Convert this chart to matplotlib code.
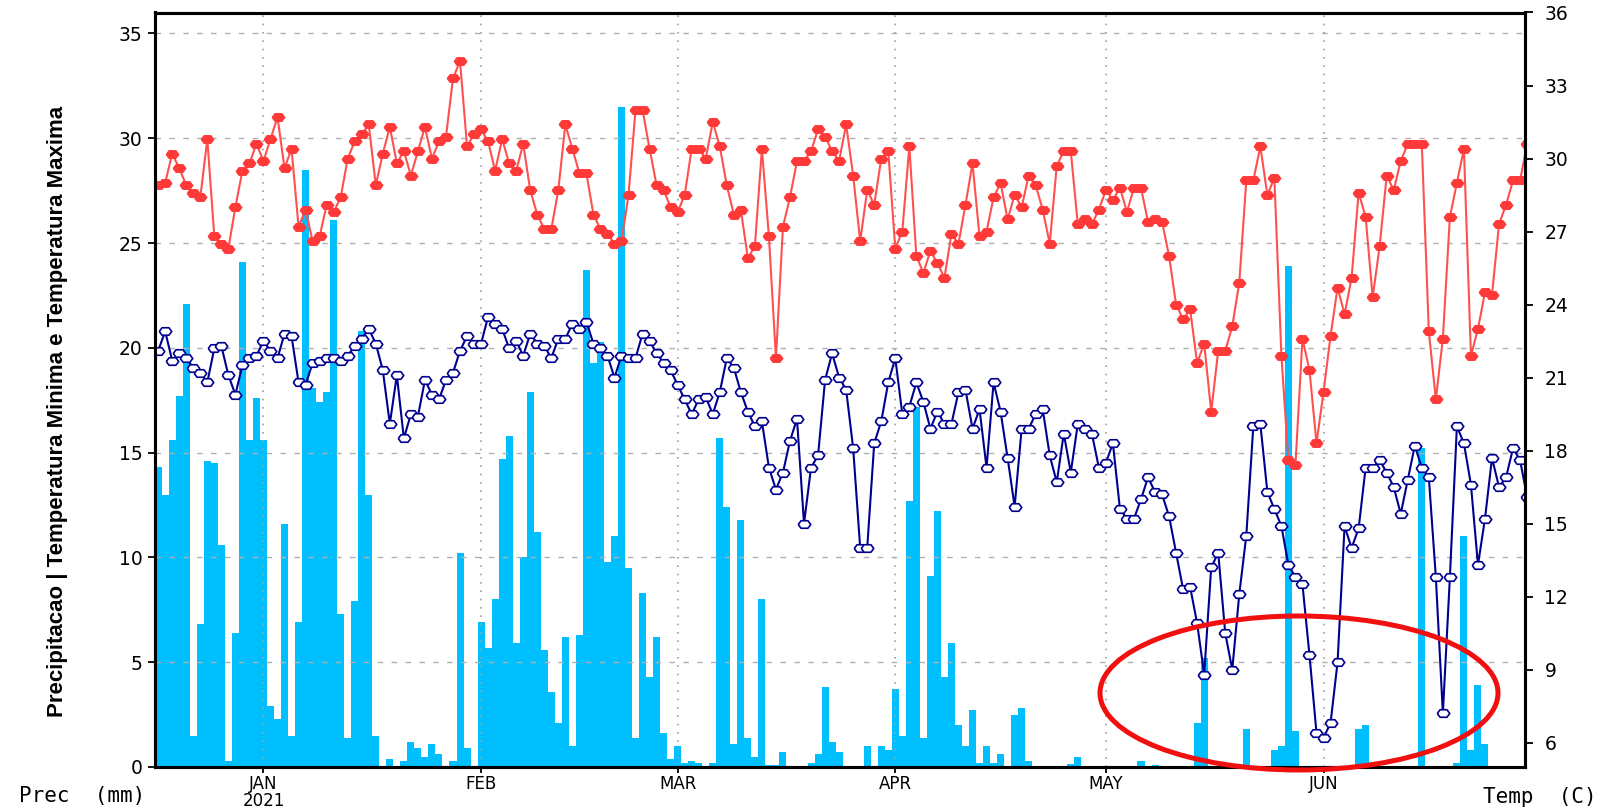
import matplotlib
matplotlib.use('Agg')
import matplotlib.pyplot as plt
import matplotlib.dates as mdates
from matplotlib.patches import Ellipse
from matplotlib.ticker import FuncFormatter
import pandas as pd

# daily series, 17 Dec 2020 .. 30 Jun 2021
start_date = '2020-12-17'

precip = [14.3, 13.0, 15.6, 17.7, 22.1, 1.5, 6.8, 14.6, 14.5, 10.6, 0.3, 6.4, 24.1, 15.6, 17.6,
          15.6, 2.9, 2.3, 11.6, 1.5, 6.9, 28.5, 18.1, 17.4, 17.9,
          26.1, 7.3, 1.4, 7.9, 20.8, 13.0, 1.5, 0, 0.4, 0, 0.3, 1.2, 0.9, 0.5, 1.1, 0.6, 0, 0.3,
          10.2, 0.9, 0, 6.9, 5.7, 8.0,
          14.7, 15.8, 5.9, 10.0, 17.9, 11.2, 5.6, 3.6, 2.1, 6.2, 1.0, 6.3, 23.7, 19.3, 20.3, 9.8,
          11.0, 31.5, 9.5, 1.4, 8.3, 4.3, 6.2, 1.6,
          0.4, 1.0, 0.2, 0.3, 0.2, 0, 0.2, 15.7, 12.4, 1.1, 11.8, 1.4, 0.5, 8.0, 0.1, 0.1, 0.7,
          0, 0, 0, 0.2, 0.6, 3.8, 1.2,
          0.7, 0, 0, 0, 1.0, 0, 1.0, 0.8, 3.7, 1.5, 12.7, 17.2, 1.4, 9.1, 12.2, 4.3, 5.9, 2.0,
          1.0, 2.7, 0.2, 1.0, 0.2, 0.6,
          0, 2.5, 2.8, 0.3, 0, 0, 0, 0, 0, 0.15, 0.5, 0, 0, 0, 0, 0, 0, 0, 0, 0.3, 0, 0.1, 0, 0, 0,
          0, 0, 2.1, 5.2, 0, 0, 0, 0, 0, 1.8, 0, 0, 0, 0.8, 1.0, 23.9, 1.7, 0, 0, 0, 0, 0, 0, 0,
          0, 1.8, 2.0, 0, 0, 0, 0, 0, 0, 0, 15.2, 0, 0, 0, 0, 0.2, 11.0, 0.8, 3.9, 1.1,
          0, 0, 0, 0, 0, 0]

tmax = [28.9, 29.0, 30.2, 29.6, 28.9, 28.6, 28.4, 30.8, 26.8, 26.5, 26.3, 28.0, 29.5, 29.8, 30.6,
        29.9, 30.8, 31.7, 29.6, 30.4, 27.2, 27.9, 26.6, 26.8, 28.1,
        27.8, 28.4, 30.0, 30.7, 31.0, 31.4, 28.9, 30.2, 31.3, 29.8, 30.3, 29.3, 30.3, 31.3, 30.0,
        30.7, 30.9, 33.3, 34.0, 30.5, 31.0, 31.2, 30.7, 29.5,
        30.8, 29.8, 29.5, 30.6, 28.7, 27.7, 27.1, 27.1, 28.7, 31.4, 30.4, 29.4, 29.4, 27.7, 27.1,
        26.9, 26.5, 26.6, 28.5, 32.0, 32.0, 30.4, 28.9, 28.7,
        28.0, 27.8, 28.5, 30.4, 30.4, 30.0, 31.5, 30.5, 28.9, 27.7, 27.9, 25.9, 26.4, 30.4, 26.8,
        21.8, 27.2, 28.4, 29.9, 29.9, 30.3, 31.2, 30.9, 30.3,
        29.9, 31.4, 29.3, 26.6, 28.7, 28.1, 30.0, 30.3, 26.3, 27.0, 30.5, 26.0, 25.3, 26.2, 25.7,
        25.1, 26.9, 26.5, 28.1, 29.8, 26.8, 27.0, 28.4, 29.0,
        27.5, 28.5, 28.0, 29.3, 28.9, 27.9, 26.5, 29.7, 30.3, 30.3, 27.3, 27.5, 27.3, 27.9, 28.7,
        28.3, 28.8, 27.8, 28.8, 28.8, 27.4, 27.5, 27.4, 26.0, 24.0,
        23.4, 23.8, 21.6, 22.4, 19.6, 22.1, 22.1, 23.1, 24.9, 29.1, 29.1, 30.5, 28.5, 29.2, 21.9,
        17.6, 17.4, 22.6, 21.3, 18.3, 20.4, 22.7, 24.7, 23.6,
        25.1, 28.6, 27.6, 24.3, 26.4, 29.3, 28.7, 29.9, 30.6, 30.6, 30.6, 22.9, 20.1, 22.6, 27.6,
        29.0, 30.4, 21.9, 23.0, 24.5, 24.4, 27.3, 28.1, 29.1, 29.1, 30.6]

tmin = [22.1, 22.9, 21.7, 22.0, 21.8, 21.4, 21.2, 20.8, 22.2, 22.3, 21.1, 20.3, 21.5, 21.8, 21.9,
        22.5, 22.1, 21.8, 22.8, 22.7, 20.8, 20.7, 21.6, 21.7, 21.8,
        21.8, 21.7, 21.9, 22.3, 22.6, 23.0, 22.4, 21.3, 19.1, 21.1, 18.5, 19.5, 19.4, 20.9, 20.3,
        20.1, 20.9, 21.2, 22.1, 22.7, 22.4, 22.4, 23.5, 23.2,
        23.0, 22.2, 22.5, 21.9, 22.8, 22.4, 22.3, 21.8, 22.6, 22.6, 23.2, 23.0, 23.3, 22.4, 22.2,
        21.9, 21.0, 21.9, 21.8, 21.8, 22.8, 22.5, 22.0, 21.6,
        21.3, 20.7, 20.1, 19.5, 20.1, 20.2, 19.5, 20.4, 21.8, 21.4, 20.4, 19.6, 19.0, 19.2, 17.3,
        16.4, 17.1, 18.4, 19.3, 15.0, 17.3, 17.8, 20.9, 22.0,
        21.0, 20.5, 18.1, 14.0, 14.0, 18.3, 19.2, 20.8, 21.8, 19.5, 19.8, 20.8, 20.0, 18.9, 19.6,
        19.1, 19.1, 20.4, 20.5, 18.9, 19.7, 17.3, 20.8, 19.6,
        17.7, 15.7, 18.9, 18.9, 19.5, 19.7, 17.8, 16.7, 18.7, 17.1, 19.1, 18.9, 18.7, 17.3, 17.5,
        18.3, 15.6, 15.2, 15.2, 16.0, 16.9, 16.3, 16.2, 15.3, 13.8,
        12.3, 12.4, 10.9, 8.8, 13.2, 13.8, 10.5, 9.0, 12.1, 14.5, 19.0, 19.1, 16.3, 15.6, 14.9,
        13.3, 12.8, 12.5, 9.6, 6.4, 6.2, 6.8, 9.3, 14.9,
        14.0, 14.8, 17.3, 17.3, 17.6, 17.1, 16.5, 15.4, 16.8, 18.2, 17.3, 16.9, 12.8, 7.2, 12.8,
        19.0, 18.3, 16.6, 13.3, 15.2, 17.7, 16.5, 16.9, 18.1, 17.6, 16.1]

prec_ticks = [0, 5, 10, 15, 20, 25, 30, 35]
temp_ticks = [6, 9, 12, 15, 18, 21, 24, 27, 30, 33, 36]

dates = pd.date_range(start_date, periods=len(precip), freq='D')

W, H = 1616, 808
fig = plt.figure(figsize=(W / 100, H / 100), dpi=100)
ax = fig.add_axes([155 / W, 1 - 767 / H, (1525 - 155) / W, (767 - 12.5) / H])

ax.bar(dates, precip, width=1.0, color='#00bfff', linewidth=0, zorder=1)
ax.set_ylim(0, 36)
ax.set_yticks(prec_ticks)
x0 = mdates.date2num(pd.Timestamp(start_date))
ax.set_xlim(x0 - 0.45, mdates.date2num(pd.Timestamp('2021-06-29')) + 0.7)

ax.xaxis.set_major_locator(mdates.MonthLocator())


def month_label(x, pos):
    d = mdates.num2date(x)
    s = d.strftime('%b').upper()
    if d.month == 1:
        s += '\n' + str(d.year)
    return s


ax.xaxis.set_major_formatter(FuncFormatter(month_label))

ax.set_axisbelow(False)
ax.yaxis.grid(True, color='#b0b0b0', linestyle=(0, (4, 6)), linewidth=1)
ax.xaxis.grid(True, color='#a0a0a0', linestyle=(0, (1, 4)), linewidth=1.2)
# no grid line on 0
ax.yaxis.get_gridlines()[0].set_visible(False)

ax2 = ax.twinx()
ax2.set_ylim(5, 36)
ax2.set_yticks(temp_ticks)

hexa = [(-1, 0), (-0.55, 0.6), (0.55, 0.6), (1, 0), (0.55, -0.6), (-0.55, -0.6), (-1, 0)]
ax2.plot(dates, tmax, color='#ff5050', lw=1.5, marker=hexa, ms=9,
         mfc='#ff3838', mec='#ff3838', mew=1)
ax2.plot(dates, tmin, color='#000090', lw=1.5, marker=hexa, ms=9,
         mfc='white', mec='#000090', mew=1.2)

for a in (ax, ax2):
    for s in a.spines.values():
        s.set_linewidth(2.2)
        s.set_color('black')

ax.tick_params(axis='y', direction='out', length=5, width=1.3, pad=4, labelsize=13.5)
ax.tick_params(axis='x', direction='out', length=4, width=1.3, pad=1.5, labelsize=12)
ax2.tick_params(axis='y', direction='out', length=6, width=1.3, pad=8, labelsize=13.5)
for lab in ax.get_xticklabels():
    lab.set_linespacing(0.95)

fig.text(58 / W, 1 - 411 / H, 'Precipitacao | Temperatura Minima e Temperatura Maxima',
         rotation=90, ha='center', va='center', fontsize=16,
         family=['Liberation Sans', 'DejaVu Sans'], fontweight='bold')
fig.text(82 / W, 1 - 796 / H, 'Prec  (mm)', ha='center', va='center', fontsize=15,
         family='DejaVu Sans Mono')
fig.text(1540 / W, 1 - 797 / H, 'Temp  (C)', ha='center', va='center', fontsize=15,
         family='DejaVu Sans Mono')

# red highlight ellipse
ell = Ellipse((1299 / W, 1 - 693 / H), 398 / W, 154 / H, transform=fig.transFigure,
              fill=False, edgecolor='#f01010', linewidth=3.6, zorder=10)
fig.add_artist(ell)

fig.savefig('out.png', dpi=100)
